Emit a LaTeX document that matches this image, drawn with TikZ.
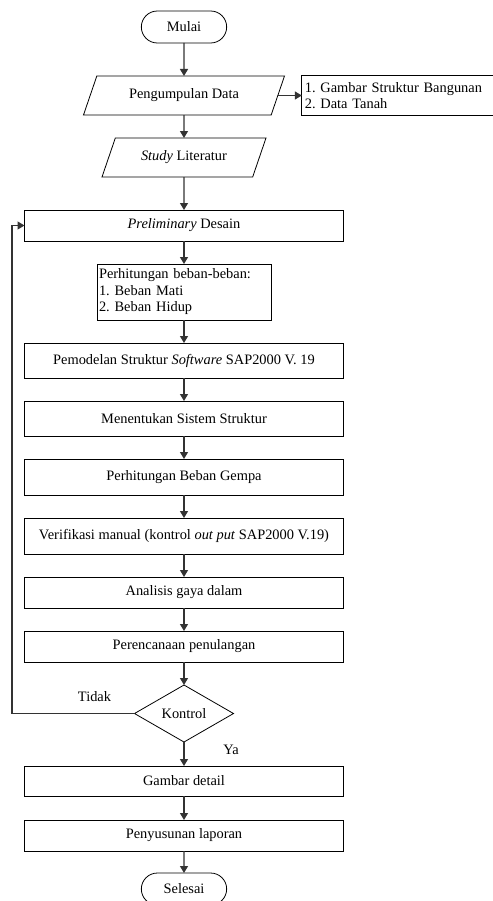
\documentclass[tikz,border=0pt]{standalone}
\usepackage{fontspec}
\setmainfont{Liberation Serif}
\frenchspacing
\usetikzlibrary{arrows.meta,positioning,calc,shapes.geometric,shapes.misc}

\begin{document}
\begin{tikzpicture}[
  x=1pt, y=1pt,
  every node/.style={font=\fontsize{14.4}{16.5}\selectfont, outer sep=0pt},
  terminal/.style={draw, rounded rectangle, minimum width=92pt, minimum height=32pt, line width=0.8pt},
  proses/.style={draw, rectangle, minimum width=319pt, minimum height=31pt, line width=0.8pt, inner sep=2pt},
  datain/.style={draw, trapezium, trapezium left angle=56, trapezium right angle=124, trapezium stretches body, minimum height=39pt, line width=0.8pt},
  ket/.style={draw, rectangle, align=left, line width=0.8pt, inner sep=3pt},
  keputusan/.style={draw, diamond, aspect=1.74, minimum width=99pt, minimum height=57pt, inner sep=0pt, line width=0.8pt},
  arr/.style={-{Triangle[length=7pt, width=8pt]}, line width=1.2pt, black!80}
]
  \useasboundingbox (0,0) rectangle (492,-901);

  \node[terminal] (mulai) at (184,-27) {Mulai};
  \node[datain, minimum width=201pt, below=33pt of mulai] (kumpul) {Pengumpulan Data};
  \node[ket, text width=191pt, minimum height=40pt, right=24pt of kumpul] (datatanah) {1. Gambar Struktur Bangunan\\2. Data Tanah};
  \node[datain, minimum width=164pt, below=23pt of kumpul] (studi) {\textit{Study} Literatur};
  \node[proses, below=33pt of studi] (prelim) {\textit{Preliminary} Desain};
  \node[ket, text width=170pt, minimum height=56pt, inner sep=2pt, below=23pt of prelim] (beban) {Perhitungan beban-beban:\\1. Beban Mati\\2. Beban Hidup};
  \node[proses, minimum height=35pt, below=23pt of beban] (model) {Pemodelan Struktur \textit{Software} SAP2000 V. 19};
  \node[proses, minimum height=35pt, below=23pt of model] (sistem) {Menentukan Sistem Struktur};
  \node[proses, minimum height=36pt, below=23pt of sistem] (gempa) {Perhitungan Beban Gempa};
  \node[proses, minimum height=36pt, below=23pt of gempa] (verif) {Verifikasi manual (kontrol \textit{out put} SAP2000 V.19)};
  \node[proses, below=23pt of verif] (analisis) {Analisis gaya dalam};
  \node[proses, below=23pt of analisis] (tulangan) {Perencanaan penulangan};
  \node[keputusan, below=23pt of tulangan] (kontrol) {Kontrol};
  \node[proses, minimum height=30pt, below=24pt of kontrol] (gambar) {Gambar detail};
  \node[proses, below=24pt of gambar] (laporan) {Penyusunan laporan};
  \node[terminal, below=22pt of laporan] (selesai) {Selesai};

  \node (tidak) at ($(kontrol.west)+(-40,17)$) {Tidak};
  \node (ya) at ($(kontrol.south)+(47,-8)$) {Ya};
  \coordinate (balik) at (12,0);

  \draw[arr] (mulai) -- (kumpul);
  \draw[arr] (kumpul.east) -- (datatanah.west);
  \draw[arr] (kumpul) -- (studi);
  \draw[arr] (studi) -- (prelim);
  \draw[arr] (prelim) -- (beban);
  \draw[arr] (beban) -- (model);
  \draw[arr] (model) -- (sistem);
  \draw[arr] (sistem) -- (gempa);
  \draw[arr] (gempa) -- (verif);
  \draw[arr] (verif) -- (analisis);
  \draw[arr] (analisis) -- (tulangan);
  \draw[arr] (tulangan) -- (kontrol);
  \draw[arr] (kontrol) -- (gambar);
  \draw[arr] (gambar) -- (laporan);
  \draw[arr] (laporan) -- (selesai);
  \draw[arr] (kontrol.west) -- (kontrol.west -| balik) |- (prelim.west);
\end{tikzpicture}
\end{document}
